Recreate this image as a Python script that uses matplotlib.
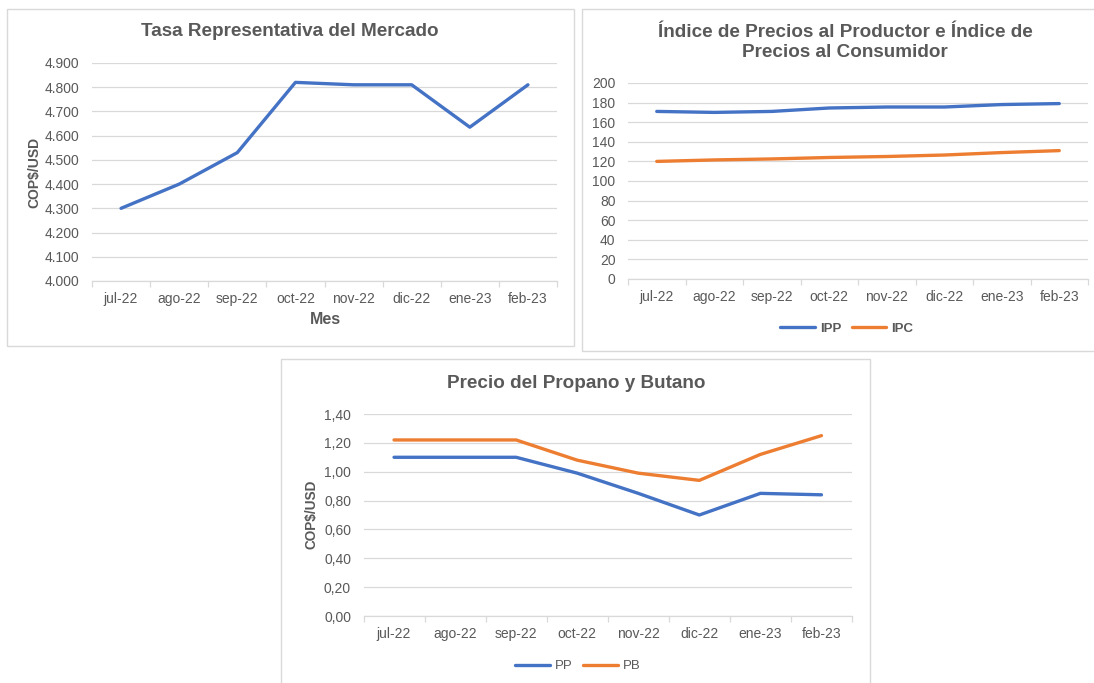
import matplotlib
matplotlib.use("Agg")
import matplotlib.pyplot as plt
from matplotlib.patches import Rectangle
from matplotlib.ticker import FuncFormatter

plt.rcParams['font.family'] = ['Liberation Sans', 'DejaVu Sans']

meses = ['jul-22', 'ago-22', 'sep-22', 'oct-22', 'nov-22', 'dic-22', 'ene-23', 'feb-23']
trm = [4300, 4400, 4530, 4820, 4810, 4810, 4635, 4810]
ipp = [171, 170, 171, 174.5, 175.5, 175.5, 178, 179]
ipc = [120, 121.5, 122.5, 124, 125, 126.5, 129, 131]
pp = [1.10, 1.10, 1.10, 0.99, 0.85, 0.70, 0.85, 0.84]
pb = [1.22, 1.22, 1.22, 1.08, 0.99, 0.94, 1.12, 1.25]

BLUE = '#4472C4'
ORANGE = '#ED7D31'
TXT = '#595959'
GRID = '#D9D9D9'
W, H = 1094, 683
LW = 2.4


def box(x0, y0, x1, y1):
    # pixel box (top-left origin) -> figure fraction rect
    return [x0 / W, 1 - y1 / H, (x1 - x0) / W, (y1 - y0) / H]


def px(x, y):
    return x / W, 1 - y / H


def style_axes(ax, ylim, yticks, fmt):
    ax.set_xlim(-0.5, len(meses) - 0.5)
    ax.set_ylim(*ylim)
    ax.set_yticks(yticks)
    ax.yaxis.set_major_formatter(FuncFormatter(fmt))
    ax.set_xticks(range(len(meses)))
    ax.set_xticklabels(meses)
    ax.set_xticks([i - 0.5 for i in range(len(meses) + 1)], minor=True)
    ax.grid(axis='y', color=GRID, lw=0.9)
    ax.set_axisbelow(True)
    for s in ['top', 'right', 'left']:
        ax.spines[s].set_visible(False)
    ax.spines['bottom'].set_color(GRID)
    ax.spines['bottom'].set_linewidth(0.9)
    ax.tick_params(axis='y', length=0, pad=9, labelsize=10, labelcolor=TXT)
    ax.tick_params(axis='x', which='major', length=0, pad=8, labelsize=10, labelcolor=TXT)
    ax.tick_params(axis='x', which='minor', length=4, width=0.9, color=GRID)


fig = plt.figure(figsize=(W / 100, H / 100), dpi=100)

# panel frames
for x0, y0, x1, y1 in [(6.5, 9, 574, 346), (582, 9, 1110, 351), (281, 359, 870, 700)]:
    fig.add_artist(Rectangle(px(x0, y1), (x1 - x0) / W, (y1 - y0) / H,
                             transform=fig.transFigure, fill=False, ec=GRID, lw=1))

# Tasa Representativa del Mercado
ax1 = fig.add_axes(box(92, 63, 557, 281))
ax1.plot(range(len(meses)), trm, color=BLUE, lw=LW, solid_capstyle='round')
style_axes(ax1, (4000, 4900), range(4000, 4901, 100),
           lambda v, p: f'{int(v):,}'.replace(',', '.'))
fig.text(*px(290, 32), 'Tasa Representativa del Mercado', ha='center', va='center',
         fontsize=13.6, fontweight='bold', color=TXT)
fig.text(*px(34, 172), 'COP$/USD', rotation=90, ha='center', va='center',
         fontsize=10, fontweight='bold', color=TXT)
fig.text(*px(325, 319), 'Mes', ha='center', va='center',
         fontsize=11.5, fontweight='bold', color=TXT)

# IPP e IPC
ax2 = fig.add_axes(box(628, 83, 1088, 279))
ax2.plot(range(len(meses)), ipp, color=BLUE, lw=LW, solid_capstyle='round', label='IPP')
ax2.plot(range(len(meses)), ipc, color=ORANGE, lw=LW, solid_capstyle='round', label='IPC')
style_axes(ax2, (0, 200), range(0, 201, 20), lambda v, p: f'{int(v)}')
fig.text(*px(845, 42.5), 'Índice de Precios al Productor e Índice de\nPrecios al Consumidor',
         ha='center', va='center', fontsize=13.6, fontweight='bold', color=TXT,
         linespacing=1.2)
leg2 = ax2.legend(loc='center', bbox_to_anchor=px(847, 329), bbox_transform=fig.transFigure,
                  ncol=2, frameon=False, handlelength=2.6, handletextpad=0.4,
                  columnspacing=0.8, fontsize=9.5)
for t in leg2.get_texts():
    t.set_color(TXT)
    t.set_fontweight('bold')

# Precio del Propano y Butano
ax3 = fig.add_axes(box(363.5, 414, 852, 616))
ax3.plot(range(len(meses)), pp, color=BLUE, lw=LW, solid_capstyle='round', label='PP')
ax3.plot(range(len(meses)), pb, color=ORANGE, lw=LW, solid_capstyle='round', label='PB')
style_axes(ax3, (0, 1.4), [i * 0.2 for i in range(8)],
           lambda v, p: f'{v:.2f}'.replace('.', ','))
fig.text(*px(576, 383), 'Precio del Propano y Butano', ha='center', va='center',
         fontsize=13.6, fontweight='bold', color=TXT)
fig.text(*px(312, 514), 'COP$/USD', rotation=90, ha='center', va='center',
         fontsize=9.8, fontweight='bold', color=TXT)
leg3 = ax3.legend(loc='center', bbox_to_anchor=px(578, 666), bbox_transform=fig.transFigure,
                  ncol=2, frameon=False, handlelength=2.6, handletextpad=0.4,
                  columnspacing=0.8, fontsize=9.5)
for t in leg3.get_texts():
    t.set_color(TXT)

fig.savefig('out.png', dpi=100)
